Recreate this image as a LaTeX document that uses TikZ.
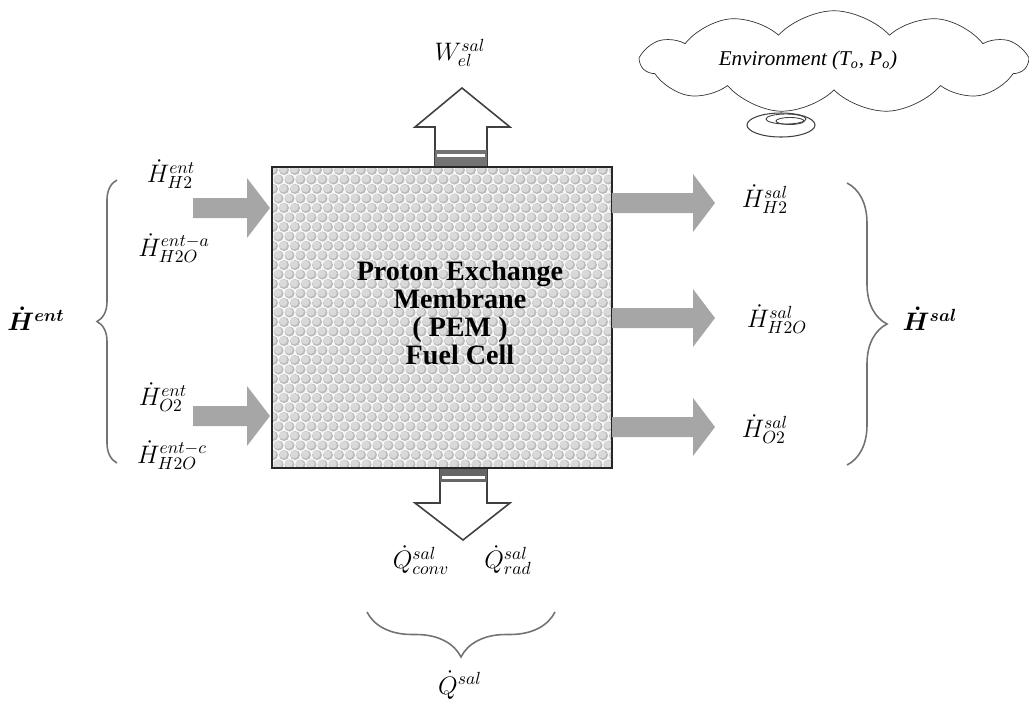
\documentclass[tikz,border=0pt]{standalone}
\usepackage{bm}
\usepackage[no-math]{fontspec}
\setmainfont{Liberation Serif}
\usetikzlibrary{decorations.pathreplacing,shapes.symbols}

\tikzset{
  flowarrow/.style={fill=black!35},
  heatarrow/.style={draw=black!75, fill=white, line width=0.9pt, line join=miter},
  fluxlabel/.style={font=\fontsize{14}{16}\selectfont, inner sep=1pt},
  curly/.style={draw=black!55, line width=0.9pt, decorate, decoration={brace, amplitude=#1}},
}

\begin{document}
\begin{tikzpicture}[x=0.02cm, y=-0.02cm]
        \useasboundingbox (0,0) rectangle (1029,704);

        % Textura de la membrana
        \begin{scope}
          \clip (272,167) rectangle (612,468);
          \fill[black!3] (272,167) rectangle (612,468);
          \foreach \i in {0,...,32}
            \foreach \j in {0,...,31}
              {\fill[black!27] ({273+11*\j+5.5*mod(\i,2)},{170+9.5*\i}) circle[radius=0.1cm];
               \fill[black!15] ({272.3+11*\j+5.5*mod(\i,2)},{169.3+9.5*\i}) circle[radius=0.08cm];
               \fill[white!85!black] ({271+11*\j+5.5*mod(\i,2)},{168+9.5*\i}) circle[radius=0.035cm];}
        \end{scope}

        % Trabajo electrico de salida
        \draw[heatarrow] (435,167) -- (435,127) -- (415,127) -- (462,88) -- (510,127) -- (487,127) -- (487,167);
        \fill[black!55] (435,150) rectangle (487,166);
        \fill[white] (437,153.5) rectangle (485,156.5);

        % Calor de salida
        \draw[heatarrow] (440,468) -- (440,503) -- (415,503) -- (463,540) -- (510,503) -- (487,503) -- (487,468);
        \fill[black!60] (440,469) rectangle (487,482);
        \fill[white] (442,476) rectangle (485,478.5);

        % Celda de combustible
        \node[draw=black!85, line width=1.5pt, minimum width=6.8cm, minimum height=6.02cm, inner sep=0pt] (pem) at (442,317.5) {};
        \node[align=center, font=\bfseries\fontsize{16}{16}\selectfont] (pemtext) at (460,313) {Proton Exchange\\Membrane\\( PEM )\\Fuel Cell};

        % Flujos de entrada
        \foreach \yc in {208,416}
          \fill[flowarrow] (193,{\yc-10}) -- (247,{\yc-10}) -- (247,{\yc-30}) -- (270,\yc) -- (247,{\yc+30}) -- (247,{\yc+10}) -- (193,{\yc+10}) -- cycle;

        % Flujos de salida
        \foreach \yc in {203,318,427}
          \fill[flowarrow] (612,{\yc-10}) -- (693,{\yc-10}) -- (693,{\yc-29}) -- (715,\yc) -- (693,{\yc+29}) -- (693,{\yc+10}) -- (612,{\yc+10}) -- cycle;

        % Etiquetas de entrada
        \node[fluxlabel] (hH2in) at (171,174) {$\dot{H}^{ent}_{H2}$};
        \node[fluxlabel] (hH2Oa) at (174,248) {$\dot{H}^{ent{-}a}_{H2O}$};
        \node[fluxlabel] (hO2in) at (163,397) {$\dot{H}^{ent}_{O2}$};
        \node[fluxlabel] (hH2Oc) at (172,455) {$\dot{H}^{ent{-}c}_{H2O}$};
        \node[fluxlabel] (hent) at (36,319) {$\bm{\dot{H}^{ent}}$};

        % Etiquetas de salida
        \node[fluxlabel] (hH2out) at (765,199) {$\dot{H}^{sal}_{H2}$};
        \node[fluxlabel] (hH2Oout) at (777,319) {$\dot{H}^{sal}_{H2O}$};
        \node[fluxlabel] (hO2out) at (765,429) {$\dot{H}^{sal}_{O2}$};
        \node[fluxlabel] (hsal) at (930,319) {$\bm{\dot{H}^{sal}}$};

        \node[fluxlabel] (wel) at (460,53) {$W^{sal}_{el}$};
        \node[fluxlabel] (qconv) at (421,560) {$\dot{Q}^{sal}_{conv}$};
        \node[fluxlabel] (qrad) at (508,560) {$\dot{Q}^{sal}_{rad}$};
        \node[fluxlabel] (qsal) at (460,685) {$\dot{Q}^{sal}$};

        % Llaves
        \draw[curly=0.4cm] (117,463) -- (117,180);
        \draw[curly=0.8cm] (847,183) -- (847,465);
        \draw[curly=0.9cm] (555,612) -- (367,612);

        % Ambiente
        \node[cloud, draw=black!80, cloud puffs=11, cloud puff arc=95, aspect=3.8, minimum width=7.7cm, minimum height=2.05cm, inner sep=0pt] (env) at (834,62) {};
        \node[font=\itshape\fontsize{12}{14}\selectfont] (envtext) at (808,60) {Environment (T\textsubscript{o}, P\textsubscript{o})};
        \draw[black!75, line width=0.6pt] (781,125) ellipse[x radius=0.68cm, y radius=0.24cm];
        \draw[black!75, line width=0.5pt] (786,119) ellipse[x radius=0.4cm, y radius=0.1cm];
        \draw[black!75, line width=0.5pt] (790,121) ellipse[x radius=0.28cm, y radius=0.07cm];
\end{tikzpicture}
\end{document}
